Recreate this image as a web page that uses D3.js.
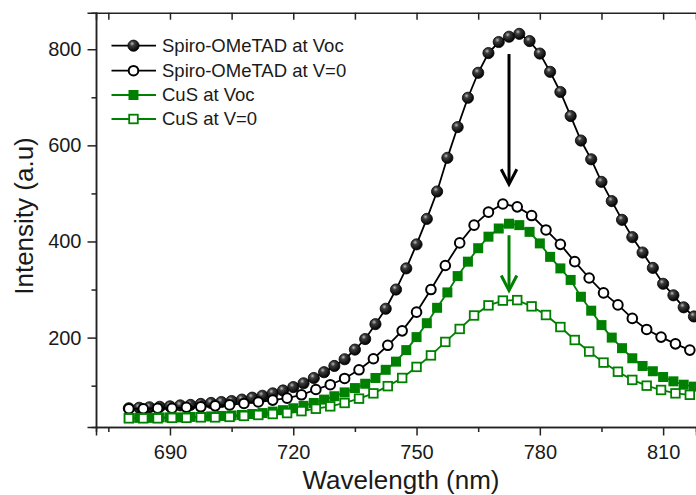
<!DOCTYPE html>
<html>
<head>
<meta charset="utf-8">
<script src="https://cdn.jsdelivr.net/npm/d3@7"></script>
<style>
  body { margin: 0; background: #fff; }
  svg { display: block; }
  text { font-family: Arial, "Liberation Sans", sans-serif; fill: #1a1a1a; }
</style>
</head>
<body>
<svg id="chart" width="696" height="495"></svg>
<script>

// wavelengths (nm) of the two sampling grids
var wlVoc = [680, 682.5, 685, 687.5, 690, 692.5, 695, 697.5, 700, 702.5, 705, 707.5, 710, 712.5, 715, 717.5,
             720, 722.5, 725, 727.5, 730, 732.5, 735, 737.5, 740, 742.5, 745, 747.5, 750, 752.5, 755, 757.5,
             760, 762.5, 765, 767.5, 770, 772.5, 775, 777.5, 780, 782.5, 785, 787.5, 790, 792.5, 795, 797.5,
             800, 802.5, 805, 807.5, 810, 812.5, 815, 817.5]
var wlZero = [680, 683.5, 687, 690.5, 694, 697.5, 701, 704.5, 708, 711.5, 715, 718.5, 722, 725.5, 729, 732.5,
              736, 739.5, 743, 746.5, 750, 753.5, 757, 760.5, 764, 767.5, 771, 774.5, 778, 781.5, 785, 788.5,
              792, 795.5, 799, 802.5, 806, 809.5, 813, 816.5]

// intensities (a.u.)
var spiroVoc = [53, 54, 55, 56, 57, 59, 60, 62, 64, 66, 68, 71, 75, 79, 84, 90,
                97, 105, 116, 128, 141, 155, 175, 197, 228, 260, 300, 344, 394, 447, 504, 574,
                638, 699, 751, 792, 815, 826, 832, 817, 791, 753, 711, 661, 610, 571, 524, 484,
                445, 409, 377, 345, 312, 288, 263, 244]
var spiroZero = [52, 52, 53, 53, 55, 56, 58, 60, 63, 66, 70, 74, 81, 92, 102, 115,
                 133, 156, 184, 214, 253, 300, 350, 397, 434, 461, 478, 472, 454, 424, 394, 358,
                 324, 293, 268, 240, 217, 201, 187, 174]
var cusVoc = [33, 33, 33, 34, 34, 34, 35, 35, 36, 37, 38, 39, 41, 43, 46, 49,
              53, 58, 64, 71, 78, 86, 95, 104, 116, 133, 150, 174, 201, 230, 262, 294,
              328, 358, 386, 410, 427, 437, 434, 420, 396, 368, 344, 320, 285, 256, 226, 200,
              178, 157, 141, 130, 118, 109, 102, 98]
var cusZero = [32, 32, 32, 33, 33, 34, 34, 35, 37, 39, 41, 43, 47, 52, 57, 64,
               73, 84, 99, 116, 139, 163, 191, 218, 246, 267, 277, 278, 265, 247, 222, 195,
               171, 148, 129, 112, 100, 91, 84, 81]

var seriesNames = ['Spiro-OMeTAD at Voc', 'Spiro-OMeTAD at V=0', 'CuS at Voc', 'CuS at V=0']

var xTicks = [690, 720, 750, 780, 810]
var xMinor = [675, 705, 735, 765, 795]
var yTicks = [200, 400, 600, 800]
var yMinor = [100, 300, 500, 700]

// arrows: wavelength, start and end intensity
var arrowX = [772.5, 772.5]
var arrowFrom = [790, 413]
var arrowTo = [517, 296]

var green = '#008000'

var svg = d3.select('#chart')
var plotLeft = 96, plotRight = 696, plotTop = 12.7, plotBottom = 427

var x = d3.scaleLinear().domain([672, 818]).range([plotLeft, plotRight])
var y = d3.scaleLinear().domain([14, 876]).range([plotBottom, plotTop])

// sphere look for the filled black circles
var grad = svg.append('defs').append('radialGradient')
  .attr('id', 'ball').attr('cx', '38%').attr('cy', '32%').attr('r', '65%')
grad.append('stop').attr('offset', '0%').attr('stop-color', '#bdbdbd')
grad.append('stop').attr('offset', '32%').attr('stop-color', '#3c3c3c')
grad.append('stop').attr('offset', '100%').attr('stop-color', '#050505')

// axes
function styleAxis(g) {
  g.selectAll('path, line').attr('stroke', '#222').attr('stroke-width', 1.5)
  g.selectAll('text').style('font-size', '20px').attr('fill', '#1a1a1a')
}

svg.append('g').attr('transform', 'translate(0,' + plotBottom + ')')
  .call(d3.axisBottom(x).tickValues(xTicks).tickSize(8.5).tickPadding(9).tickFormat(d3.format('d')))
  .call(styleAxis)
svg.append('g').attr('transform', 'translate(0,' + plotBottom + ')')
  .call(d3.axisBottom(x).tickValues(xMinor).tickSize(5).tickFormat(''))
  .call(styleAxis)
svg.append('g').attr('transform', 'translate(0,' + plotTop + ')')
  .call(d3.axisTop(x).tickValues(xMinor.concat(xTicks)).tickSize(-7).tickFormat(''))
  .call(styleAxis)
svg.append('g').attr('transform', 'translate(' + plotLeft + ',0)')
  .call(d3.axisLeft(y).tickValues(yTicks).tickSize(8.5).tickPadding(6).tickFormat(d3.format('d')))
  .call(styleAxis)
svg.append('g').attr('transform', 'translate(' + plotLeft + ',0)')
  .call(d3.axisLeft(y).tickValues(yMinor).tickSize(4.5).tickFormat(''))
  .call(styleAxis)

// axis titles
svg.append('text').attr('x', 401).attr('y', 489).attr('text-anchor', 'middle')
  .style('font-size', '26px').text('Wavelength (nm)')
svg.append('text').attr('transform', 'translate(33,216) rotate(-90)').attr('text-anchor', 'middle')
  .style('font-size', '26px').text('Intensity (a.u)')

// series
var line = d3.line().x(function(d){ return x(d[0]) }).y(function(d){ return y(d[1]) })

function pairs(xs, ys) { return xs.map(function(v, i){ return [v, ys[i]] }) }

var plot = svg.append('g')

function drawSeries(data, color, kind) {
  plot.append('path').datum(data).attr('d', line)
    .attr('fill', 'none').attr('stroke', color).attr('stroke-width', 1.8)
  addMarkers(plot.append('g'), data, kind)
}

function addMarkers(g, data, kind) {
  if (kind === 'ball') {
    g.selectAll('circle').data(data).enter().append('circle')
      .attr('cx', function(d){ return x(d[0]) }).attr('cy', function(d){ return y(d[1]) })
      .attr('r', 5.6).attr('fill', 'url(#ball)').attr('stroke', '#000').attr('stroke-width', 0.8)
  } else if (kind === 'ring') {
    g.selectAll('circle').data(data).enter().append('circle')
      .attr('cx', function(d){ return x(d[0]) }).attr('cy', function(d){ return y(d[1]) })
      .attr('r', 4.8).attr('fill', '#fff').attr('stroke', '#000').attr('stroke-width', 2)
  } else if (kind === 'square') {
    g.selectAll('rect').data(data).enter().append('rect')
      .attr('x', function(d){ return x(d[0]) - 5 }).attr('y', function(d){ return y(d[1]) - 5 })
      .attr('width', 10).attr('height', 10).attr('fill', green)
  } else {
    g.selectAll('rect').data(data).enter().append('rect')
      .attr('x', function(d){ return x(d[0]) - 4.3 }).attr('y', function(d){ return y(d[1]) - 4.3 })
      .attr('width', 8.6).attr('height', 8.6).attr('fill', '#fff').attr('stroke', green).attr('stroke-width', 1.8)
  }
}

drawSeries(pairs(wlVoc, spiroVoc), '#000', 'ball')
drawSeries(pairs(wlZero, spiroZero), '#000', 'ring')
drawSeries(pairs(wlVoc, cusVoc), green, 'square')
drawSeries(pairs(wlZero, cusZero), green, 'open')

// arrows
var arrowColors = ['#000', green]
arrowX.forEach(function(ax, i) {
  var px = x(ax), y0 = y(arrowFrom[i]), y1 = y(arrowTo[i])
  svg.append('line').attr('x1', px).attr('x2', px).attr('y1', y0).attr('y2', y1 - 2)
    .attr('stroke', arrowColors[i]).attr('stroke-width', 3)
  svg.append('path')
    .attr('d', 'M' + (px - 7.8) + ',' + (y1 - 16) + 'L' + px + ',' + (y1 - 1) + 'L' + (px + 7.8) + ',' + (y1 - 16))
    .attr('fill', 'none').attr('stroke', arrowColors[i]).attr('stroke-width', 3)
    .attr('stroke-linejoin', 'miter')
})

// legend
var legendY = [45.7, 70.7, 95, 119]
var legendColor = ['#000', '#000', green, green]
var legendKind = ['ball', 'ring', 'square', 'open']
var legend = svg.append('g')
seriesNames.forEach(function(name, i) {
  legend.append('line').attr('x1', 111.5).attr('x2', 156).attr('y1', legendY[i]).attr('y2', legendY[i])
    .attr('stroke', legendColor[i]).attr('stroke-width', 1.8)
  addMarkers(legend.append('g'), [[x.invert(133.5), y.invert(legendY[i])]], legendKind[i])
  legend.append('text').attr('x', 162).attr('y', legendY[i]).attr('dy', '0.35em')
    .style('font-size', '18.5px').text(name)
})

</script>
</body>
</html>
